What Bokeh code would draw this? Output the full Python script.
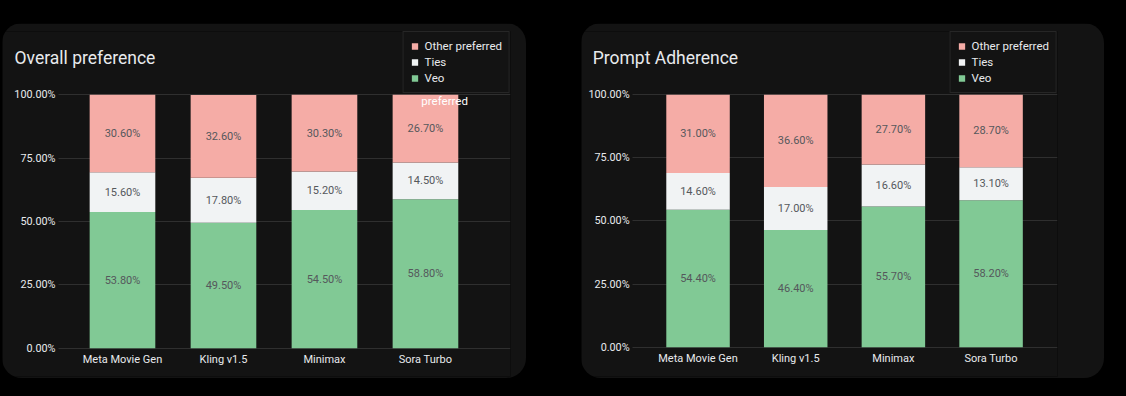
from bokeh.plotting import figure
from bokeh.models import (Range1d, FixedTicker, PrintfTickFormatter, Legend,
                          LegendItem, Label, ColumnDataSource)
from bokeh.layouts import row
from bokeh.embed import file_html
from bokeh.resources import INLINE
from bokeh.core.properties import value

# ---------------- data ----------------
categories = ["Meta Movie Gen", "Kling v1.5", "Minimax", "Sora Turbo"]
series_names = ["Other preferred", "Ties", "Veo"]

overall_veo = [53.8, 49.5, 54.5, 58.8]
overall_ties = [15.6, 17.8, 15.2, 14.5]
overall_other = [30.6, 32.6, 30.3, 26.7]

adherence_veo = [54.4, 46.4, 55.7, 58.2]
adherence_ties = [14.6, 17.0, 16.6, 13.1]
adherence_other = [31.0, 36.6, 27.7, 28.7]

y_ticks = [0, 25, 50, 75, 100]
stray_label = "preferred"  # clipped legend text visible on the Sora Turbo bar (left chart)

# ---------------- style ----------------
FONT = "Roboto"
CARD_BG = "#131313"
C_OTHER = "#f5aca6"
C_TIES = "#f1f3f4"
C_VEO = "#81c995"
TXT = "#e8eaed"


def make_card(title, veo, ties, other, width, x_start, x_end, y_start, axis_x,
              mb_right, title_x, title_y, margin, extra=None):
    p = figure(width=width, height=355, output_backend="svg", toolbar_location=None,
               x_range=Range1d(x_start, x_end), y_range=Range1d(y_start, 125),
               min_border_left=0, min_border_right=mb_right,
               min_border_top=8, min_border_bottom=2,
               background_fill_color=CARD_BG, border_fill_color=CARD_BG,
               outline_line_color=None)
    p.margin = margin
    p.styles = {"border-radius": "20px", "overflow": "hidden"}

    xs = list(range(len(categories)))
    src = ColumnDataSource(dict(x=xs, veo=veo, ties=ties, other=other))
    rs = p.vbar_stack(["veo", "ties", "other"], x="x", width=0.65, source=src,
                      color=[C_VEO, C_TIES, C_OTHER], line_color=None)

    # segment value labels
    lx, ly, lt = [], [], []
    for i in xs:
        base = 0.0
        for v in (veo[i], ties[i], other[i]):
            lx.append(i)
            ly.append(base + v / 2.0)
            lt.append(f"{v:.2f}%")
            base += v
    p.text(x="x", y="y", text="t", source=ColumnDataSource(dict(x=lx, y=ly, t=lt)),
           text_align="center", text_baseline="middle", text_font=value(FONT),
           text_font_size="11px", text_color="#55585c")

    if extra is not None:
        p.add_layout(Label(x=extra[0], y=extra[1], text=stray_label, text_align="center",
                           text_baseline="middle", text_font=FONT, text_font_size="11.5px",
                           text_color="#ffffff"))

    # axes (drawn inside the frame at fixed positions)
    p.xaxis.ticker = FixedTicker(ticks=xs)
    p.xaxis.major_label_overrides = {i: c for i, c in enumerate(categories)}
    p.xaxis.fixed_location = 0
    p.yaxis.ticker = FixedTicker(ticks=y_ticks)
    p.yaxis.formatter = PrintfTickFormatter(format="%.2f%%")
    p.yaxis.fixed_location = axis_x
    for ax in (p.xaxis[0], p.yaxis[0]):
        ax.axis_line_color = None
        ax.major_tick_line_color = None
        ax.minor_tick_line_color = None
        ax.major_tick_out = 0
        ax.major_tick_in = 0
        ax.minor_tick_out = 0
        ax.major_label_text_font = FONT
        ax.major_label_text_color = TXT
    p.xaxis.major_label_text_font_size = "11px"
    p.xaxis.major_label_standoff = 5
    p.yaxis.major_label_text_font_size = "10.8px"
    p.yaxis.major_label_standoff = 3
    p.xgrid.grid_line_color = None
    p.ygrid.grid_line_color = "#2f2f2f"
    p.ygrid.grid_line_width = 1
    p.ygrid.cross_bounds = (axis_x, x_end)

    # title
    p.add_layout(Label(x=title_x, y=title_y, text=title, text_align="left",
                       text_baseline="middle", text_font=FONT, text_font_size="17.5px",
                       text_color=TXT))

    # legend
    legend = Legend(items=[LegendItem(label=series_names[0], renderers=[rs[2]]),
                           LegendItem(label=series_names[1], renderers=[rs[1]]),
                           LegendItem(label=series_names[2], renderers=[rs[0]])],
                    location="top_right", margin=0, padding=7, spacing=2,
                    label_height=13, glyph_width=8, glyph_height=8, label_standoff=6,
                    label_text_font=FONT, label_text_font_size="11.5px",
                    label_text_color=TXT, background_fill_color=CARD_BG,
                    background_fill_alpha=1.0, border_line_color="#3a3a3a",
                    border_line_width=1)
    p.add_layout(legend, "center")
    return p


p1 = make_card("Overall preference", overall_veo, overall_ties, overall_other,
               width=524, x_start=-1.188, x_end=3.842, y_start=-11.17, axis_x=-0.634,
               mb_right=16, title_x=-1.069, title_y=114.7,
               margin=(23, 0, 0, 2), extra=(3.19, 97.5))
p2 = make_card("Prompt Adherence", adherence_veo, adherence_ties, adherence_other,
               width=523, x_start=-1.193, x_end=3.68, y_start=-11.6, axis_x=-0.67,
               mb_right=47, title_x=-1.078, title_y=114.4,
               margin=(23, 0, 0, 55))

layout = row(p1, p2, spacing=0)
layout.styles = {"background-color": "#000000"}

template = """
{% block inner_head %}
{{ super() }}
<style>html, body { background-color: #000000; }</style>
{% endblock %}
"""

html = file_html(layout, INLINE, title="Veo preference", template=template)
open("out.html", "w").write(html)
